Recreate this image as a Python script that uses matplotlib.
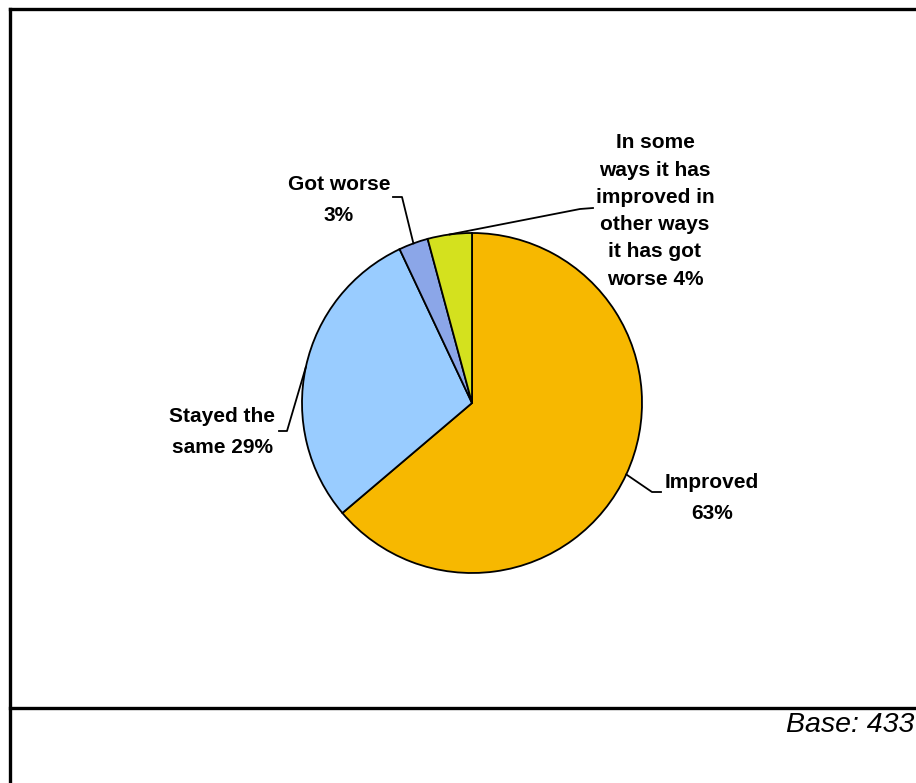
import numpy as np
import matplotlib
matplotlib.use("Agg")
import matplotlib.pyplot as plt
from matplotlib.lines import Line2D

categories = ["Improved", "Stayed the same", "Got worse",
              "In some ways it has improved in other ways it has got worse"]
values = [63.8, 29.2, 2.8, 4.2]
labels = ["Improved\n63%", "Stayed the\nsame 29%", "Got worse\n3%",
          "In some\nways it has\nimproved in\nother ways\nit has got\nworse 4%"]
colors = ["#F7B800", "#99CCFF", "#8BA6E8", "#D4E11E"]
base_text = "Base: 433"

W, H = 916, 783
fig = plt.figure(figsize=(W / 100, H / 100), dpi=100)
ax = fig.add_axes([0, 0, 1, 1])

cx, cy, r = 472, H - 403, 170
wedges, _ = ax.pie(values, colors=colors, startangle=90, counterclock=False,
                   center=(cx, cy), radius=r, frame=True,
                   wedgeprops=dict(edgecolor="black", linewidth=1.3))
ax.set_xlim(0, W)
ax.set_ylim(0, H)
ax.axis("off")

font = dict(family=["Liberation Sans", "DejaVu Sans"], fontweight="bold",
            fontsize=15, color="black", ha="center", va="center")

# label layout: text center (px), elbow point (px), tail point (px), line spacing
layout = [
    ((712, 498), (652, 492), (661, 492), 1.75),
    ((222, 432), (287, 431), (279, 431), 1.75),
    ((339, 200), (402, 197), (393, 197), 1.75),
    ((655, 211), (580, 209), (593, 208), 1.55),
]

for w, lab, (tc, elbow, tail, ls) in zip(wedges, labels, layout):
    ang = np.deg2rad((w.theta1 + w.theta2) / 2)
    px, py = cx + r * np.cos(ang), cy + r * np.sin(ang)
    ax.add_line(Line2D([px, elbow[0], tail[0]],
                       [py, H - elbow[1], H - tail[1]],
                       color="black", linewidth=1.3))
    ax.text(tc[0], H - tc[1], lab, linespacing=ls, **font)

# frame
lw = 2.4
ax.add_line(Line2D([9.5, 9.5], [0, H - 8.5], color="black", linewidth=lw,
                   solid_capstyle="projecting"))
ax.add_line(Line2D([9.5, W + 5], [H - 8.5, H - 8.5], color="black", linewidth=lw,
                   solid_capstyle="projecting"))
ax.add_line(Line2D([9.5, W + 5], [H - 708, H - 708], color="black", linewidth=lw))

ax.text(914, H - 725, base_text, family=["Liberation Sans", "DejaVu Sans"],
        style="italic", fontsize=20.5, ha="right", va="center", color="black")

fig.savefig("out.png", dpi=100)
